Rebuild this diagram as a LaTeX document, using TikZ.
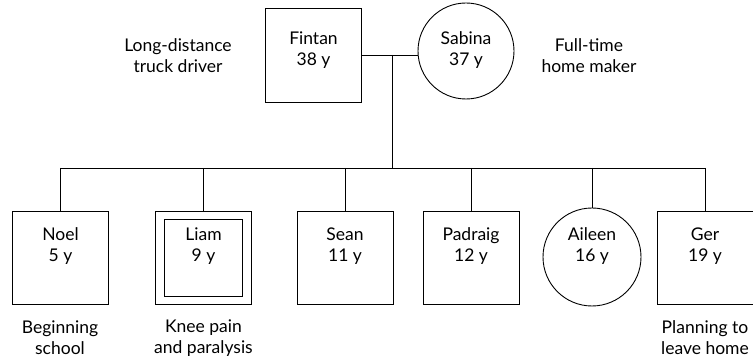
\documentclass[tikz,border=0pt]{standalone}
\usepackage{fontspec}
\setmainfont{Lato}
\begin{document}
\begin{tikzpicture}[x=1pt,y=-1pt,
  line width=0.9pt,
  person/.style={draw,minimum width=96pt,minimum height=94pt,inner sep=0pt},
  female/.style={draw,circle,minimum size=96pt,inner sep=0pt},
  txt/.style={font=\fontsize{17.5}{21}\selectfont,align=center,inner sep=0pt},
  note/.style={txt}]
\useasboundingbox (0,0) rectangle (753,358);
% parents
\node[person] (fintan) at (313.5,55) {};
\node[txt] (fintant) at (313.5,50) {Fintan\\38 y};
\node[female] (sabina) at (466,51) {};
\node[txt] (sabinat) at (466,50) {Sabina\\37 y};
\node[note] (job1) at (178,56) {Long-distance\\truck driver};
\node[note] (job2) at (589,56) {Full-time\\home maker};
% children
\node[person,minimum height=93pt] (noel) at (60.5,257.5) {};
\node[txt] (noelt) at (60.5,246) {Noel\\5 y};
\node[person,minimum height=93pt] (liam) at (203.5,257.5) {};
\node[draw,minimum width=78pt,minimum height=77pt,inner sep=0pt] (liamin) at (liam.center) {};
\node[txt] (liamt) at (203.5,246) {Liam\\9 y};
\node[person,minimum height=93pt] (sean) at (345,257.5) {};
\node[txt] (seant) at (345,246) {Sean\\11 y};
\node[person,minimum height=93pt] (padraig) at (471,257.5) {};
\node[txt] (padraigt) at (471,246) {Padraig\\12 y};
\node[female,minimum size=98pt] (aileen) at (592,257) {};
\node[txt] (aileent) at (592,246) {Aileen\\16 y};
\node[person,minimum height=93pt] (ger) at (705,257.5) {};
\node[txt] (gert) at (705,246) {Ger\\19 y};
% notes
\node[note] (n1) at (60,338) {Beginning\\school};
\node[note] (n2) at (203.5,338) {Knee pain\\and paralysis};
\node[note] (n3) at (705,338) {Planning to\\leave home};
% connectors
\coordinate (m) at (392,55);
\coordinate (b) at (392,168);
\draw (fintan.east) -- (fintan.east -| sabina.west);
\draw (m) -- (b);
\draw (noel.north |- b) -- (ger.north |- b);
\foreach \c in {noel,liam,sean,padraig,aileen,ger}
  \draw (\c.north |- b) -- (\c.north);
\end{tikzpicture}
\end{document}
